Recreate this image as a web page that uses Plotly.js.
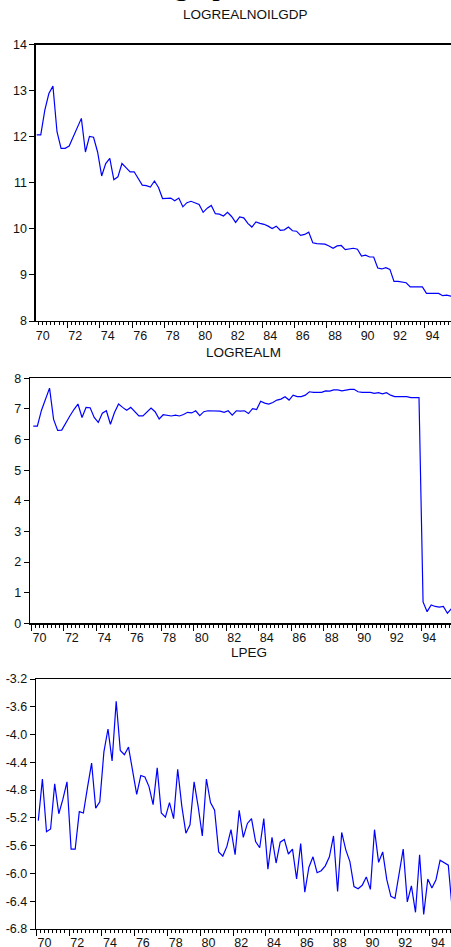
<!DOCTYPE html>
<html><head><meta charset="utf-8">
<script src="https://cdn.plot.ly/plotly-3.0.1.min.js"></script>
<style>html,body{margin:0;padding:0;overflow:hidden;background:#fff}#chart{width:470px;height:947px}</style>
</head><body><div id="chart"></div>
<script>
// ---- data (quarterly, 1970Q1 onward) ----
const startYear = 1970;
const gdp = [12.04,12.04,12.58,12.94,13.10,12.11,11.75,11.75,11.80,12.00,
 12.18,12.40,11.67,12.01,11.99,11.67,11.15,11.42,11.53,11.07,
 11.13,11.42,11.33,11.24,11.24,11.10,10.95,10.94,10.91,11.04,
 10.90,10.66,10.66,10.67,10.61,10.67,10.48,10.57,10.60,10.57,
 10.53,10.36,10.45,10.51,10.33,10.32,10.28,10.36,10.27,10.14,
 10.26,10.24,10.12,10.04,10.15,10.12,10.10,10.06,10.01,10.06,
 9.97,9.98,10.04,9.96,9.95,9.86,9.88,9.93,9.70,9.68,
 9.67,9.67,9.63,9.58,9.63,9.64,9.55,9.57,9.58,9.56,
 9.41,9.43,9.39,9.39,9.15,9.13,9.16,9.12,8.86,8.86,
 8.85,8.83,8.74,8.74,8.74,8.74,8.60,8.60,8.60,8.60,
 8.55,8.56,8.54,8.53];
const logm = [6.44,6.44,6.95,7.35,7.68,6.66,6.30,6.31,6.56,6.77,
 6.98,7.16,6.72,7.05,7.04,6.72,6.56,6.86,6.94,6.50,
 6.88,7.16,7.05,6.96,7.05,6.91,6.77,6.77,6.91,7.03,
 6.91,6.67,6.81,6.80,6.77,6.80,6.77,6.82,6.89,6.87,
 6.94,6.78,6.91,6.94,6.93,6.93,6.93,6.89,6.94,6.80,
 6.94,6.93,6.94,6.85,7.01,6.98,7.25,7.19,7.16,7.21,
 7.29,7.32,7.40,7.29,7.45,7.40,7.40,7.45,7.56,7.54,
 7.54,7.54,7.59,7.58,7.62,7.62,7.59,7.62,7.64,7.64,
 7.56,7.54,7.54,7.54,7.51,7.53,7.49,7.53,7.45,7.40,
 7.40,7.40,7.40,7.37,7.37,7.37,0.70,0.38,0.60,0.55,
 0.53,0.55,0.33,0.48];
const lpeg = [-5.24,-4.64,-5.40,-5.36,-4.71,-5.14,-4.93,-4.68,-5.65,-5.65,
 -5.11,-5.13,-4.76,-4.41,-5.06,-4.97,-4.25,-3.92,-4.38,-3.52,
 -4.23,-4.29,-4.18,-4.50,-4.86,-4.59,-4.61,-4.75,-5.01,-4.48,
 -5.13,-5.19,-4.98,-5.21,-4.50,-5.03,-5.42,-5.30,-4.68,-5.04,
 -5.46,-4.64,-4.98,-5.09,-5.69,-5.75,-5.61,-5.37,-5.73,-5.09,
 -5.48,-5.28,-5.21,-5.54,-5.63,-5.21,-5.94,-5.48,-5.85,-5.55,
 -5.51,-5.72,-5.65,-6.08,-5.57,-6.27,-5.91,-5.76,-5.99,-5.96,
 -5.89,-5.76,-5.46,-6.26,-5.41,-5.66,-5.83,-6.19,-6.22,-6.17,
 -6.05,-6.23,-5.37,-5.84,-5.69,-6.09,-6.33,-6.36,-6.00,-5.65,
 -6.41,-6.18,-6.56,-5.73,-6.59,-6.08,-6.21,-6.09,-5.81,-5.84,
 -5.88,-6.55,-6.30,-6.20];
const seriesNames = ['LOGREALNOILGDP','LOGREALM','LPEG'];
const labelYears = [1970,1972,1974,1976,1978,1980,1982,1984,1986,1988,1990,1992,1994];
const yearLabels = ['70','72','74','76','78','80','82','84','86','88','90','92','94'];
const y1Ticks = [8,9,10,11,12,13,14];
const y2Ticks = [0,1,2,3,4,5,6,7,8];
const y3Ticks = [-6.8,-6.4,-6.0,-5.6,-5.2,-4.8,-4.4,-4.0,-3.6,-3.2];
const y3Text = ['-6.8','-6.4','-6.0','-5.6','-5.2','-4.8','-4.4','-4.0','-3.6','-3.2'];
const headText = 'graph';

// ---- geometry ----
const W = 470, H = 947;
const panels = [
  {L:35.7, P0:36.7, s:4.06, R:455, top:44.7, bot:321, yr:[8,14], tv:y1Ticks, tt:y1Ticks.map(String), cx:245, ty:14, lblGap:3},
  {L:30,   P0:33.3, s:4.06, R:452, top:378.3, bot:623.3, yr:[0,8], tv:y2Ticks, tt:y2Ticks.map(String), cx:243, ty:352, lblGap:3},
  {L:36,   P0:38.3, s:4.10, R:461, top:679, bot:929, yr:[-6.8,-3.2], tv:y3Ticks, tt:y3Text, cx:249, ty:652, lblGap:1.5}
];
const series = [gdp, logm, lpeg];
const font = 'Liberation Sans, Arial, sans-serif';
const ink = '#111';

const data = [];
const layout = {
  width: W, height: H, margin:{l:0,r:0,t:0,b:0},
  paper_bgcolor:'#fff', plot_bgcolor:'#fff', showlegend:false,
  font:{family:font, color:ink, size:12.5},
  annotations:[]
};

panels.forEach((p, k) => {
  const n = k + 1, sfx = n === 1 ? '' : String(n);
  const lblN = n + 3;
  const xr = [startYear - (p.P0 - p.L)/(4*p.s), startYear + (p.R - p.P0)/(4*p.s)];
  const dx = [p.L/W, p.R/W];
  const dy = [1 - p.bot/H, 1 - p.top/H];
  const vals = series[k];
  data.push({type:'scatter', mode:'lines', x: vals.map((_, i) => startYear + i/4), y: vals,
    xaxis:'x'+sfx, yaxis:'y'+sfx, line:{color:'#0000FF', width:1.2}, hoverinfo:'skip'});
  data.push({type:'scatter', mode:'lines', x:[], y:[], xaxis:'x'+lblN, yaxis:'y'+sfx, hoverinfo:'skip'});
  layout['xaxis'+sfx] = {domain:dx, range:xr, anchor:'y'+sfx, showgrid:false, zeroline:false,
    showline:true, mirror:true, linecolor:'#000', linewidth:1.3,
    tickmode:'linear', tick0:startYear-0.125, dtick:2, ticks:'outside', ticklen:6, tickwidth:1, tickcolor:'#000',
    showticklabels:false,
    minor:{tickmode:'linear', tick0:startYear-0.125, dtick:0.25, ticks:'outside', ticklen:3, tickwidth:1, tickcolor:'#000', showgrid:false}};
  layout['xaxis'+lblN] = {overlaying:'x'+sfx, anchor:'y'+sfx, side:'bottom', range:xr, showgrid:false, zeroline:false,
    showline:false, tickmode:'array', tickvals: labelYears.map(y => y + 0.375), ticktext: yearLabels,
    ticks:'outside', ticklen:p.lblGap, tickcolor:'rgba(0,0,0,0)', tickfont:{size:12.5, color:ink, family:font}};
  layout['yaxis'+sfx] = {domain:dy, range:p.yr, anchor:'x'+sfx, showgrid:false, zeroline:false,
    showline:true, linecolor:'#000', linewidth:1.3, ticks:'outside', ticklen:5, tickwidth:1, tickcolor:'#000',
    tickmode:'array', tickvals:p.tv, ticktext:p.tt, tickfont:{size:12.5, color:ink, family:font}};
  layout.annotations.push({text: seriesNames[k], xref:'paper', yref:'paper', x:p.cx/W, y:1 - p.ty/H,
    xanchor:'center', yanchor:'middle', showarrow:false, font:{size:13.5, color:ink, family:font}});
});
layout.annotations.push({text: headText, xref:'paper', yref:'paper', x:172/W, y:1 - 3/H,
  xanchor:'left', yanchor:'bottom', showarrow:false, font:{size:30, color:'#000', family:'Liberation Serif, Times New Roman, serif'}});

Plotly.newPlot('chart', data, layout, {staticPlot:true, displayModeBar:false});
</script></body></html>
